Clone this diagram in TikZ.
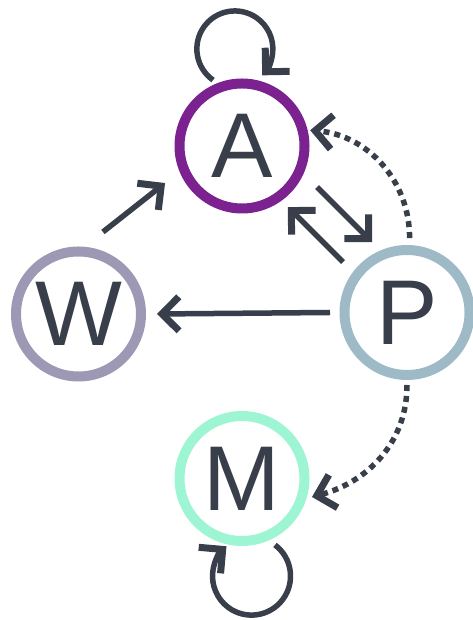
\documentclass[tikz,border=0pt]{standalone}
\usepackage{fontspec}
\setmainfont{Liberation Sans}
\usetikzlibrary{arrows.meta,calc}
\definecolor{ink}{HTML}{383E4A}
\definecolor{ringA}{HTML}{7B2190}
\definecolor{ringW}{HTML}{9D99B5}
\definecolor{ringP}{HTML}{9FBAC7}
\definecolor{ringM}{HTML}{9EF5D4}

\begin{document}
\begin{tikzpicture}[x=1pt,y=1pt,
  state/.style={circle, draw, line width=10pt, minimum size=125pt,
    inner sep=0pt, text=ink, font=\fontsize{92}{92}\selectfont},
  link/.style={draw=ink, line width=5.5pt,
    -{Straight Barb[length=17pt,width=34pt,line width=7pt]}},
  dotlink/.style={link, dash pattern=on 6pt off 5pt}]
\useasboundingbox (0,0) rectangle (473,620);

% states
\node[state, draw=ringA] (A) at (242,474) {A};
\node[state, draw=ringW] (W) at (78.5,306) {W};
\node[state, draw=ringP] (P) at (407,307.5) {P};
\node[state, draw=ringM] (M) at (242,141.5) {M};

% self loops
\draw[link] ($(A)+(113.7:72)$) arc[start angle=235, end angle=-44, radius=38];
\draw[link] ($(M)+(-63.6:74.2)$) arc[start angle=53, end angle=-230, radius=39];

% straight transitions
\draw[link] ($(W)+(73.4:85.6)$) -- ($(A)+(205.7:85.4)$);
\draw[link] ($(A)+(-28.7:85.5)$) -- ($(P)+(116.4:78.7)$);
\draw[link] ($(P)+(141.7:81.5)$) -- ($(A)+(-53:76.4)$);
\draw[link] ($(P)+(180:77)$) -- ($(W)+(0:78.5)$);

% dotted transitions
\draw[dotlink] ($(P)+(88:74.5)$) to[out=90, in=-5] ($(A)+(13:70)$);
\draw[dotlink] ($(P)+(-90:72.5)$) to[out=-90, in=15] ($(M)+(-14.8:72.4)$);
\end{tikzpicture}
\end{document}
